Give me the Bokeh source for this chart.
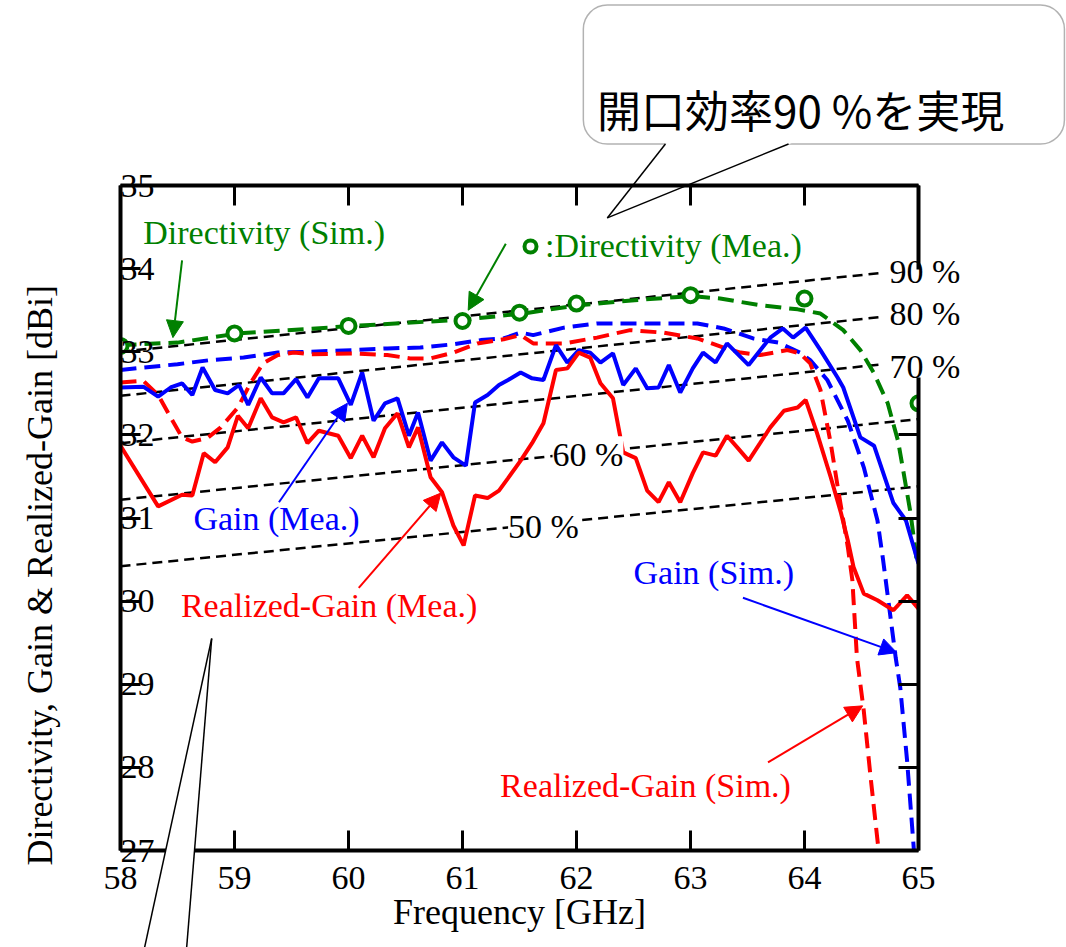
import math
from bokeh.plotting import figure
from bokeh.models import (Range1d, LinearAxis, FixedTicker, Label, Arrow, NormalHead,
                          BoxAnnotation, PolyAnnotation, Legend, LegendItem)
from bokeh.embed import file_html
from bokeh.resources import INLINE

# ---------------- data ----------------
freq_ticks = [58, 59, 60, 61, 62, 63, 64, 65]
dbi_ticks = [27, 28, 29, 30, 31, 32, 33, 34, 35]

# Gain (Mea.)  - blue solid
gm_f = [58.0, 58.20, 58.33, 58.44, 58.54, 58.63, 58.72, 58.83, 58.94, 59.04, 59.12, 59.23, 59.33,
        59.43, 59.54, 59.64, 59.74, 59.91, 60.02, 60.12, 60.22, 60.32, 60.43, 60.53, 60.61, 60.72,
        60.82, 60.92, 61.03, 61.11, 61.22, 61.32, 61.40, 61.51, 61.61, 61.71, 61.82, 61.92, 62.02,
        62.12, 62.21, 62.32, 62.41, 62.52, 62.62, 62.72, 62.81, 62.91, 63.02, 63.11, 63.22, 63.32,
        63.51, 63.70, 63.81, 63.90, 64.01, 64.14, 64.29, 64.34, 64.49, 64.61, 64.78, 64.89, 65.00]
gm_v = [32.57, 32.58, 32.46, 32.57, 32.62, 32.48, 32.81, 32.54, 32.50, 32.60, 32.36, 32.69, 32.50,
        32.50, 32.67, 32.45, 32.68, 32.68, 32.36, 32.75, 32.17, 32.38, 32.44, 31.99, 32.27, 31.69,
        31.91, 31.73, 31.63, 32.39, 32.48, 32.60, 32.66, 32.75, 32.68, 32.66, 33.08, 32.87, 33.02,
        32.99, 32.87, 32.98, 32.60, 32.80, 32.56, 32.57, 32.84, 32.51, 32.80, 32.99, 32.87, 33.10,
        32.84, 33.17, 33.28, 33.17, 33.29, 33.02, 32.69, 32.57, 31.97, 31.87, 31.18, 30.97, 30.45]

# Realized-Gain (Mea.) - red solid
rgm_f = [58.0, 58.33, 58.54, 58.63, 58.73, 58.83, 58.94, 59.03, 59.12, 59.23, 59.33, 59.43, 59.54,
         59.64, 59.74, 59.91, 60.02, 60.12, 60.22, 60.32, 60.43, 60.53, 60.61, 60.72, 60.82, 60.92,
         61.01, 61.11, 61.22, 61.32, 61.40, 61.51, 61.61, 61.71, 61.82, 61.92, 62.02, 62.12, 62.21,
         62.32, 62.41, 62.52, 62.62, 62.72, 62.81, 62.91, 63.02, 63.11, 63.22, 63.32, 63.41, 63.51,
         63.61, 63.70, 63.82, 63.94, 64.01, 64.11, 64.23, 64.32, 64.38, 64.43, 64.52, 64.64, 64.78,
         64.90, 65.00]
rgm_v = [31.87, 31.14, 31.28, 31.27, 31.78, 31.67, 31.85, 32.23, 32.08, 32.44, 32.21, 32.15, 32.21,
         31.90, 32.05, 31.99, 31.72, 31.99, 31.73, 32.08, 32.26, 31.85, 32.09, 31.49, 31.31, 30.91,
         30.67, 31.27, 31.24, 31.33, 31.48, 31.69, 31.90, 32.14, 32.78, 32.80, 32.99, 32.93, 32.62,
         32.44, 31.79, 31.72, 31.33, 31.19, 31.43, 31.19, 31.54, 31.79, 31.75, 31.99, 31.85, 31.69,
         31.90, 32.09, 32.29, 32.33, 32.42, 32.02, 31.49, 31.06, 30.73, 30.41, 30.09, 30.01, 29.89,
         30.07, 29.91]

# Gain (Sim.) - blue dashed
gs_f = [58.0, 58.20, 58.50, 58.79, 59.08, 59.38, 59.67, 60.04, 60.34, 60.63, 60.92, 61.16, 61.36,
        61.51, 61.62, 61.89, 62.18, 62.47, 62.76, 63.06, 63.29, 63.55, 63.77, 63.96, 64.05, 64.20,
        64.38, 64.52, 64.64, 64.69, 64.80, 64.84, 64.90, 64.96]
gs_v = [32.78, 32.81, 32.85, 32.90, 32.93, 32.99, 33.00, 33.02, 33.04, 33.05, 33.09, 33.14, 33.16,
        33.23, 33.20, 33.29, 33.34, 33.34, 33.34, 33.34, 33.28, 33.16, 33.11, 32.99, 32.90, 32.66,
        32.17, 31.61, 30.97, 30.49, 29.32, 28.96, 28.08, 27.00]

# Realized-Gain (Sim.) - red dashed
rgs_f = [58.0, 58.20, 58.33, 58.44, 58.54, 58.63, 58.76, 58.88, 59.03, 59.14, 59.25, 59.38, 59.52,
         59.67, 60.04, 60.34, 60.54, 60.72, 60.92, 61.13, 61.36, 61.51, 61.62, 61.89, 62.18, 62.47,
         62.76, 63.06, 63.29, 63.44, 63.61, 63.85, 63.96, 64.05, 64.14, 64.23, 64.30, 64.38, 64.42,
         64.46, 64.52, 64.58, 64.65]
rgs_v = [32.63, 32.65, 32.48, 32.21, 31.97, 31.92, 31.96, 32.09, 32.33, 32.62, 32.86, 32.96, 32.99,
         32.97, 32.98, 32.96, 32.92, 32.92, 32.99, 33.10, 33.15, 33.20, 33.10, 33.10, 33.17, 33.26,
         33.23, 33.16, 33.05, 32.99, 32.96, 33.02, 32.98, 32.86, 32.54, 31.90, 31.30, 30.65, 30.25,
         29.32, 28.68, 27.88, 27.00]

# Directivity (Sim.) - green dashed
ds_f = [58.0, 58.50, 59.03, 60.04, 61.04, 61.53, 62.02, 62.51, 63.0, 63.26, 63.61, 63.94, 64.14,
        64.34, 64.49, 64.61, 64.73, 64.82, 64.87, 64.93, 64.99]
ds_v = [33.08, 33.11, 33.22, 33.31, 33.39, 33.46, 33.56, 33.62, 33.67, 33.64, 33.56, 33.51, 33.46,
        33.26, 33.02, 32.74, 32.38, 31.93, 31.54, 31.06, 30.43]

# Directivity (Mea.) - green circles
dm_f = [58, 59, 60, 61, 61.5, 62, 63, 64, 65]
dm_v = [33.07, 33.22, 33.31, 33.37, 33.47, 33.58, 33.68, 33.64, 32.38]

# aperture-efficiency reference lines (start / end points)
eff_f0 = [58.0, 58.0, 58.0, 58.0, 58.0]
eff_v0 = [33.00, 32.47, 31.90, 31.22, 30.42]
eff_f1 = [64.69, 64.69, 64.69, 65.0, 65.0]
eff_v1 = [33.95, 33.42, 32.85, 32.19, 31.38]
edge_labels = ["90 %", "80 %", "70 %"]
edge_label_v = [33.96, 33.46, 32.82]
inner_labels = ["60 %", "50 %"]
inner_label_f = [61.79, 61.40]
inner_label_v = [31.76, 30.90]

SERIF = "Liberation Serif"
GREEN = "#008000"
BLUE = "#0000FF"
RED = "#FF0000"

# Page geometry: chart frame spans x 120..918 px (58..65 GHz, 114 px/GHz) and
# y 185..850 px (35..27 dBi, 83.125 px/dB).  The balloons and the y title are
# drawn in borderless overlay figures that share that scale.
PX_F0, PX_F1 = 56.9474, 66.2982          # GHz at page x = 0 and x = 1066


def overlay(top_px, height, transparent):
    v_top = 35 + (185 - top_px) / 83.125
    v_bot = 35 + (185 - top_px - height) / 83.125
    f = figure(width=1066, height=height, x_range=Range1d(PX_F0, PX_F1),
               y_range=Range1d(v_bot, v_top), output_backend="svg", toolbar_location=None,
               x_axis_location=None, y_axis_location=None,
               min_border_left=0, min_border_right=0, min_border_top=0, min_border_bottom=0)
    f.outline_line_color = None
    f.grid.visible = False
    if transparent:
        f.background_fill_alpha = 0
        f.border_fill_alpha = 0
    f.styles = {"position": "absolute", "left": "0px", "top": f"{top_px}px"}
    return f


# ---- balloon at the top right (below the chart in stacking order) ----
top = overlay(0, 222, False)
top.add_layout(BoxAnnotation(left=62.06, right=66.28, bottom=35.50, top=37.17,
                             fill_color="white", fill_alpha=1.0, line_color="black",
                             line_width=1.5, border_radius=24))
top.add_layout(PolyAnnotation(xs=[62.80, 62.27, 63.92], ys=[35.53, 34.61, 35.53],
                              fill_color="white", fill_alpha=1.0, line_color=None))
top.add_layout(Arrow(end=None, x_start=62.78, y_start=35.50, x_end=62.27, y_end=34.61,
                     line_color="black", line_width=1.5))
top.add_layout(Arrow(end=None, x_start=63.86, y_start=35.50, x_end=62.27, y_end=34.61,
                     line_color="black", line_width=1.5))
top.add_layout(Label(x=62.18, y=35.926, text="開口効率90 %を実現", text_font="Noto Sans CJK JP",
                     text_font_size="44px", text_color="black", text_baseline="middle",
                     text_align="left"))

# ---------------- chart ----------------
p = figure(width=1066, height=787, x_range=Range1d(58, 65), y_range=Range1d(27, 35),
           output_backend="svg", toolbar_location=None,
           min_border_left=120, min_border_right=148, min_border_top=25, min_border_bottom=97)
p.outline_line_color = None
p.grid.visible = False
p.background_fill_alpha = 0
p.border_fill_alpha = 0
p.styles = {"position": "absolute", "left": "0px", "top": "160px"}


def style_axis(ax, ticks, show_labels=True):
    ax.ticker = FixedTicker(ticks=ticks)
    ax.minor_tick_line_color = None
    ax.major_tick_in = 20
    ax.major_tick_out = 0
    ax.major_tick_line_width = 3
    ax.major_tick_line_color = "black"
    ax.axis_line_width = 4
    ax.axis_line_color = "black"
    ax.major_label_text_font = SERIF
    ax.major_label_text_font_size = "34px"
    ax.major_label_text_color = "black"
    if not show_labels:
        ax.major_label_overrides = {t: "" for t in ticks}
        ax.major_label_standoff = 0


xa = p.xaxis[0]
style_axis(xa, freq_ticks)
xa.major_label_standoff = 16
xa.axis_label = "Frequency [GHz]"
xa.axis_label_text_font = SERIF
xa.axis_label_text_font_size = "36px"
xa.axis_label_text_font_style = "normal"
xa.axis_label_text_color = "black"
xa.axis_label_standoff = 0

ya = p.yaxis[0]
style_axis(ya, dbi_ticks)
ya.major_label_standoff = -34

top_axis = LinearAxis()
style_axis(top_axis, freq_ticks, False)
p.add_layout(top_axis, "above")

# right frame edge in two pieces so the percentage labels stay readable
right_low = LinearAxis(bounds=(27, 32.69))
style_axis(right_low, [27, 28, 29, 30, 31, 32], False)
p.add_layout(right_low, "right")
right_high = LinearAxis(bounds=(33.99, 35))
style_axis(right_high, [35], False)
p.add_layout(right_high, "right")
right_pct = LinearAxis()
right_pct.ticker = FixedTicker(ticks=edge_label_v)
right_pct.major_label_overrides = {v: t for v, t in zip(edge_label_v, edge_labels)}
right_pct.axis_line_color = None
right_pct.major_tick_line_color = None
right_pct.minor_tick_line_color = None
right_pct.major_tick_in = 0
right_pct.major_tick_out = 0
right_pct.major_label_standoff = -29
right_pct.major_label_text_font = SERIF
right_pct.major_label_text_font_size = "34px"
right_pct.major_label_text_color = "black"
p.add_layout(right_pct, "right")

# efficiency reference lines
for i in range(len(eff_f0)):
    p.line([eff_f0[i], eff_f1[i]], [eff_v0[i], eff_v1[i]], line_color="black",
           line_width=2.5, line_dash="10 6")

# series
p.line(ds_f, ds_v, line_color=GREEN, line_width=4, line_dash="16 8")
p.line(gs_f, gs_v, line_color=BLUE, line_width=4, line_dash="16 8")
p.line(rgs_f, rgs_v, line_color=RED, line_width=4, line_dash="16 8")
p.line(gm_f, gm_v, line_color=BLUE, line_width=4)
p.line(rgm_f, rgm_v, line_color=RED, line_width=4)
dm_r = p.scatter(dm_f, dm_v, marker="circle", size=14, fill_color="white",
                 line_color=GREEN, line_width=4)

for i in range(len(inner_labels)):
    p.add_layout(Label(x=inner_label_f[i], y=inner_label_v[i], text=inner_labels[i],
                       text_font=SERIF, text_font_size="34px", text_color="black",
                       text_baseline="middle", text_align="left",
                       background_fill_color="white"))


def note(x, y, text, color):
    p.add_layout(Label(x=x, y=y, text=text, text_font=SERIF, text_font_size="34px",
                       text_color=color, text_baseline="middle", text_align="left"))


def arrow(x0, y0, x1, y1, color):
    p.add_layout(Arrow(end=NormalHead(size=17, fill_color=color, line_color=color, line_width=1),
                       x_start=x0, y_start=y0, x_end=x1, y_end=y1,
                       line_color=color, line_width=2))


note(58.20, 34.44, "Directivity (Sim.)", GREEN)
arrow(58.54, 34.10, 58.46, 33.17, GREEN)
arrow(61.38, 34.30, 61.05, 33.50, GREEN)
note(58.64, 31.00, "Gain (Mea.)", BLUE)
arrow(59.39, 31.19, 59.99, 32.38, BLUE)
note(58.53, 29.95, "Realized-Gain (Mea.)", RED)
arrow(60.09, 30.16, 60.81, 31.30, RED)
note(62.50, 30.35, "Gain (Sim.)", BLUE)
arrow(63.46, 30.04, 64.81, 29.38, BLUE)
note(61.33, 27.78, "Realized-Gain (Sim.)", RED)
arrow(63.68, 28.06, 64.51, 28.74, RED)

legend = Legend(items=[LegendItem(label=":Directivity (Mea.)", renderers=[dm_r])],
                location=(395, 579), orientation="vertical",
                glyph_width=30, glyph_height=50, label_standoff=0, padding=0, margin=0,
                spacing=0, border_line_color=None, background_fill_alpha=0,
                label_text_font=SERIF, label_text_font_size="34px", label_text_color=GREEN,
                label_height=50)
p.add_layout(legend)

# ---- full-page overlay: y-axis title and the tail of a second balloon ----
front = overlay(0, 947, True)
front.add_layout(Label(x=57.298, y=30.31, text="Directivity, Gain & Realized-Gain [dBi]",
                       angle=math.pi / 2, text_font=SERIF, text_font_size="36px",
                       text_color="black", text_align="center", text_baseline="middle"))
front.add_layout(PolyAnnotation(xs=[58.80, 58.13, 58.55], ys=[29.55, 25.32, 25.32],
                                fill_color="white", fill_alpha=1.0, line_color=None))
front.add_layout(Arrow(end=None, x_start=58.80, y_start=29.55, x_end=58.13, y_end=25.32,
                       line_color="black", line_width=1.5))
front.add_layout(Arrow(end=None, x_start=58.80, y_start=29.55, x_end=58.55, y_end=25.32,
                       line_color="black", line_width=1.5))

open("out.html", "w").write(file_html([top, p, front], INLINE))
